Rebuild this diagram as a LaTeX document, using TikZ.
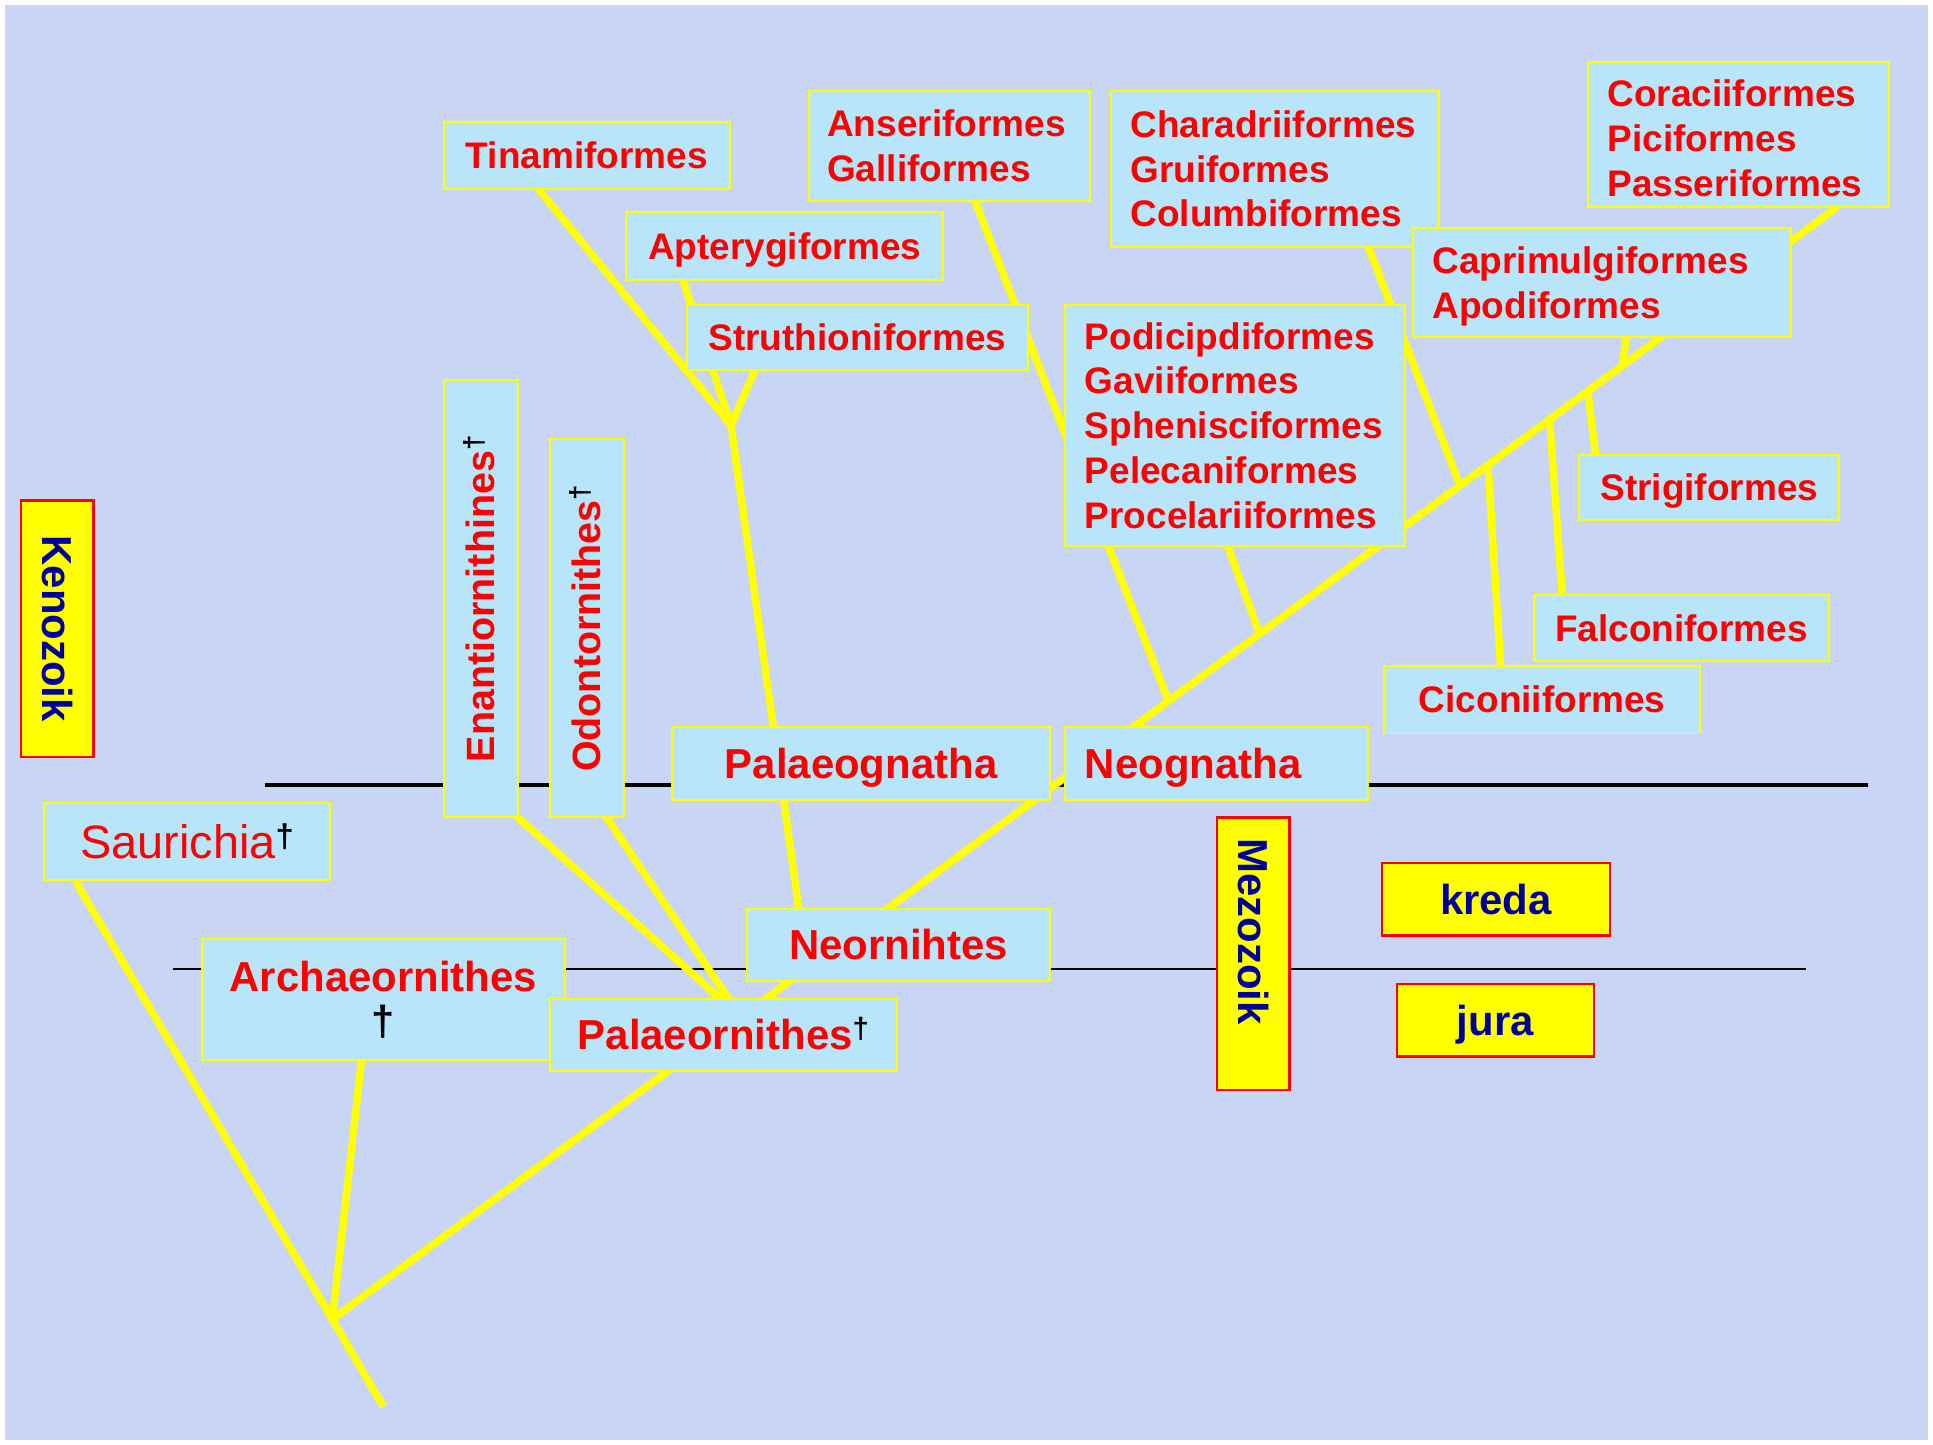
\documentclass[tikz,border=0pt]{standalone}
\usepackage{fontspec}
\setmainfont{Liberation Sans}
\usetikzlibrary{calc}
\pgfdeclarelayer{bg}
\pgfdeclarelayer{lines}
\pgfsetlayers{bg,lines,main}
\definecolor{bgblue}{RGB}{200,213,244}
\definecolor{boxblue}{RGB}{185,229,250}
\definecolor{txtred}{RGB}{255,0,0}
\definecolor{eranavy}{RGB}{0,0,150}
\definecolor{ylw}{RGB}{255,255,0}
\newcommand{\mydag}{\textsuperscript{\normalfont\bfseries\color{black}†}}
\begin{document}
\begin{tikzpicture}[x=1pt,y=-1pt,
  taxon/.style={draw=ylw, line width=1.6pt, fill=boxblue, text=txtred, inner sep=0pt,
    font=\fontsize{30}{36.3}\selectfont\bfseries},
  oneline/.style={text height=21.5pt, text depth=0pt},
  big/.style={font=\fontsize{34}{39}\selectfont\bfseries, text height=24.3pt, text depth=0pt},
  vert/.style={font=\fontsize{32}{38}\selectfont\bfseries, text height=22.9pt, text depth=0pt},
  era/.style={draw=red, line width=2pt, fill=ylw, text=eranavy, inner sep=0pt,
    font=\fontsize{34}{39}\selectfont\bfseries, text height=24.3pt, text depth=0pt},
  branch/.style={draw=ylw, line width=6pt, line cap=round},
  stem/.style={draw=ylw, line width=6pt, line cap=butt}
]
\useasboundingbox (0,0) rectangle (1568,1172);
\begin{pgfonlayer}{bg}
  \fill[white] (0,0) rectangle (1568,1172);
  \fill[bgblue] (4,4) rectangle (1564,1168);
\end{pgfonlayer}

% ---- taxon boxes
\node[taxon,oneline,minimum width=232pt,minimum height=54pt] (tinam) at (476,126) {Tinamiformes};
\node[taxon,minimum width=228pt,minimum height=89pt,text width=198pt,align=left,inner xsep=15pt] (anser) at (770,118.5) {Anseriformes\\Galliformes};
\node[taxon,minimum width=266pt,minimum height=126pt,text width=234pt,align=left,inner xsep=16pt] (chara) at (1034,137) {Charadriiformes\\Gruiformes\\Columbiformes};
\node[taxon,minimum width=244pt,minimum height=118pt,text width=212pt,align=left,inner xsep=16pt] (corac) at (1410,109) {\rule{0pt}{28pt}Coraciiformes\\Piciformes\\Passeriformes};
\node[taxon,oneline,minimum width=257pt,minimum height=55pt] (apter) at (636.5,199.5) {Apterygiformes};
\node[taxon,oneline,minimum width=277pt,minimum height=53pt] (struth) at (695.5,273.5) {Struthioniformes};
\node[taxon,minimum width=307pt,minimum height=88pt,text width=275pt,align=left,inner xsep=16pt] (caprim) at (1299.5,229) {\rule{0pt}{29pt}Caprimulgiformes\\Apodiformes};
\node[taxon,minimum width=276pt,minimum height=196pt,text width=244pt,align=left,inner xsep=16pt] (podic) at (1002,345) {Podicipdiformes\\Gaviiformes\\Sphenisciformes\\Pelecaniformes\\Procelariiformes};
\node[taxon,oneline,minimum width=211pt,minimum height=53pt] (strig) at (1386.5,395.5) {Strigiformes};
\node[taxon,oneline,minimum width=240pt,minimum height=53pt] (falco) at (1364,509.5) {Falconiformes};
\node[taxon,oneline,minimum width=256pt,minimum height=55pt] (cicon) at (1251,567.5) {Ciconiiformes};

\node[taxon,vert,rotate=90,minimum width=355pt,minimum height=60pt] (enant) at (390,485.5) {Enantiornithines\mydag};
\node[taxon,vert,rotate=90,minimum width=307pt,minimum height=60pt] (odont) at (476,509.5) {Odontornithes\mydag};

\node[taxon,big,minimum width=307pt,minimum height=59pt] (palgn) at (698.5,619.5) {Palaeognatha};
\node[taxon,big,minimum width=246pt,minimum height=59pt,text width=214pt,align=left,inner xsep=16pt] (neogn) at (987,619.5) {Neognatha};
\node[taxon,font=\fontsize{38}{44}\selectfont,text height=27.2pt,text depth=0pt,minimum width=232pt,minimum height=63pt] (saur) at (152,682.5) {Saurichia\mydag};
\node[taxon,font=\fontsize{34}{35}\selectfont\bfseries,align=center,minimum width=294pt,minimum height=98pt] (archae) at (311,811) {Archaeornithes\\{\normalfont\bfseries\color{black}†}};
\node[taxon,big,minimum width=246pt,minimum height=59pt] (neorn) at (729,766.5) {Neornihtes};
\node[taxon,big,minimum width=282pt,minimum height=59pt] (palorn) at (587,839.5) {Palaeornithes\mydag};

% ---- era boxes
\node[era,rotate=-90,minimum width=208pt,minimum height=59pt] (keno) at (46.5,510) {Kenozoik};
\node[era,rotate=-90,minimum width=221pt,minimum height=59pt,text width=187pt,align=left,inner xsep=17pt] (mezo) at (1016.5,773.5) {Mezozoik};
\node[era,minimum width=185pt,minimum height=59pt] (kreda) at (1213.5,729.5) {kreda};
\node[era,minimum width=160pt,minimum height=59pt] (jura) at (1213,827.5) {jura};

% ---- connectors
\begin{pgfonlayer}{lines}
  \draw[line width=3.3pt] (215,637) -- (1515,637);
  \draw[line width=1.2pt] (140,786) -- (1465,786);

  \coordinate (jA) at (269.6,1070);
  \coordinate (root) at (311,1141);
  \coordinate (pj) at (601,825.05);
  \coordinate (nj) at (654.8,785.3);
  \coordinate (ngj) at (947.8,568.7);
  \coordinate (pcj) at (1021.8,514.1);
  \coordinate (chj) at (1184.3,393.9);
  \coordinate (cij) at (1207,377.2);
  \coordinate (faj) at (1257,340.2);
  \coordinate (stj) at (1288,317.3);
  \coordinate (caj) at (1316,296.6);
  \coordinate (pgj) at (593,345);

  \draw[stem] ($(saur.south west)+(26,0)$) -- (root);
  \draw[branch] (jA) -- ($(archae.south west)+(130,0)$);
  \draw[branch] (jA) -- (pj) -- (nj) -- (ngj) -- (pcj) -- (chj) -- (cij) -- (faj) -- (stj) -- (caj) -- ($(corac.south west)+(202,0)$);
  \draw[branch] (pj) -- ($(enant.center)+(30,177.5)$);
  \draw[branch] (pj) -- ($(odont.center)+(16,153.5)$);
  \draw[branch] (nj) -- (pgj);
  \draw[branch] (pgj) -- ($(tinam.south west)+(78,0)$);
  \draw[branch] (pgj) -- ($(apter.south west)+(47,0)$);
  \draw[branch] (pgj) -- ($(struth.south west)+(56,0)$);
  \draw[branch] (ngj) -- ($(anser.south west)+(136,0)$);
  \draw[branch] (pcj) -- ($(podic.south west)+(133,0)$);
  \draw[branch] (chj) -- ($(chara.south west)+(210,0)$);
  \draw[branch] (cij) -- ($(cicon.north west)+(95,0)$);
  \draw[branch] (faj) -- ($(falco.north west)+(24,0)$);
  \draw[branch] (stj) -- ($(strig.north west)+(14,0)$);
  \draw[branch] (caj) -- ($(caprim.south west)+(174,0)$);
\end{pgfonlayer}
\end{tikzpicture}
\end{document}
